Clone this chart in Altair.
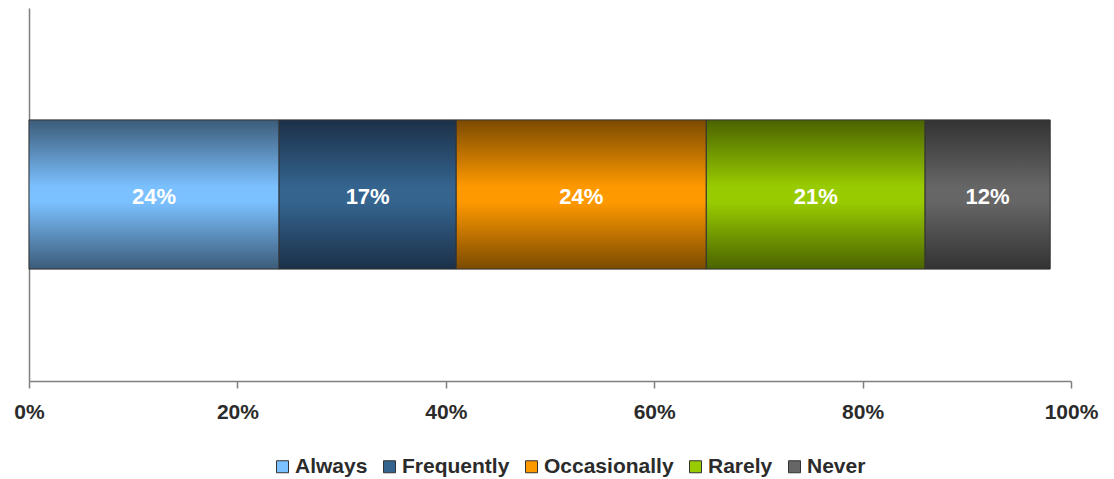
import altair as alt
import pandas as pd

categories = ["Always", "Frequently", "Occasionally", "Rarely", "Never"]
values = [24, 17, 24, 21, 12]
centers = ["#7BC0FF", "#35648F", "#FF9900", "#99CC00", "#666666"]
edges = ["#3C5C79", "#1B3048", "#7B4A00", "#4A6300", "#333333"]
ticks = [0, 20, 40, 60, 80, 100]

df = pd.DataFrame({"category": categories, "value": values, "order": list(range(len(categories)))})

FONT = "Liberation Sans"

base = alt.Chart(df).transform_window(
    end="sum(value)", sort=[alt.SortField("order")], frame=[None, 0]
).transform_calculate(
    start="datum.end - datum.value",
    mid="(datum.start + datum.end) / 2",
    row="'r'",
    label="datum.value + '%'",
)

xenc = alt.X("start:Q", scale=alt.Scale(domain=[0, 100], nice=False),
             axis=alt.Axis(values=ticks, labelExpr="datum.value + '%'", title=None, grid=False,
                           tickSize=7, tickColor="#7f7f7f", domainColor="#7f7f7f", domainWidth=1.5,
                           tickWidth=1.5, labelFont=FONT, labelFontSize=21, labelFontWeight="bold",
                           labelColor="#2b2b2b", labelPadding=13, labelFlush=False))
x2enc = alt.X2("end:Q")
yenc = alt.Y("row:N", scale=alt.Scale(paddingInner=0, paddingOuter=0.75),
             axis=alt.Axis(labels=False, ticks=False, title=None, grid=False,
                           domainColor="#7f7f7f", domainWidth=1.5))

legend_layer = base.mark_bar().encode(
    x=xenc, x2=x2enc, y=yenc,
    color=alt.Color("category:N", sort=categories,
                    scale=alt.Scale(domain=categories, range=centers),
                    legend=alt.Legend(orient="none", direction="horizontal", title=None,
                                      legendX=243, legendY=448,
                                      symbolType="square", symbolSize=144, symbolStrokeColor="#333333",
                                      symbolStrokeWidth=1, labelFont=FONT, labelFontSize=21,
                                      labelFontWeight="bold", labelColor="#2b2b2b", labelOffset=2,
                                      columnPadding=11)),
)

layers = [legend_layer]
for cat, c, e in zip(categories, centers, edges):
    grad = alt.Gradient(gradient="linear", x1=0, y1=0, x2=0, y2=1,
                        stops=[alt.GradientStop(offset=0, color=e),
                               alt.GradientStop(offset=0.45, color=c),
                               alt.GradientStop(offset=0.55, color=c),
                               alt.GradientStop(offset=1, color=e)])
    layers.append(
        base.transform_filter(alt.datum.category == cat).mark_bar(
            fill=grad, stroke="#333333", strokeWidth=1
        ).encode(x="start:Q", x2=x2enc, y=yenc)
    )

text_layer = base.mark_text(color="white", font=FONT, fontSize=22, fontWeight="bold", dy=2).encode(
    x="mid:Q", y=yenc, text="label:N"
)
layers.append(text_layer)

chart = alt.layer(*layers).properties(
    width=1042, height=373,
    background="white",
    autosize=alt.AutoSizeParams(type="none"),
    padding={"left": 29, "top": 8, "right": 43, "bottom": 98},
).configure_view(stroke="transparent", strokeWidth=0)

chart.save("out.html", embed_options={"renderer": "svg", "actions": False})
